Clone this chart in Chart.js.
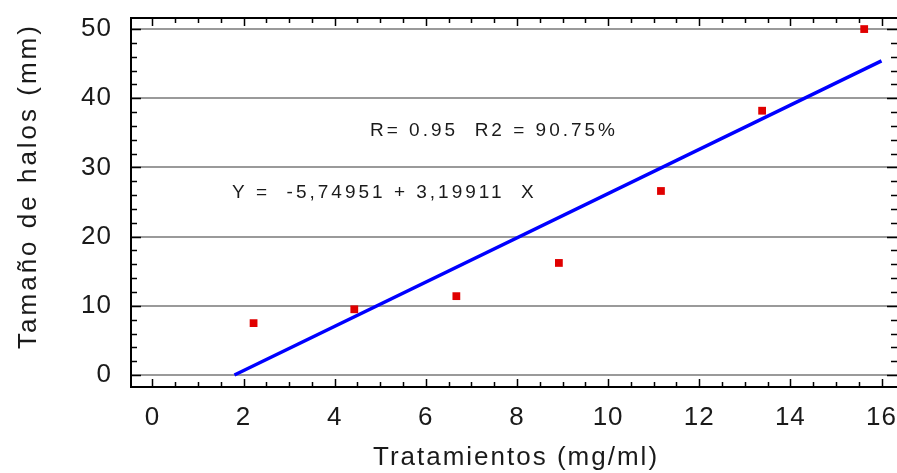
<!DOCTYPE html>
<html>
<head>
<meta charset="utf-8">
<script src="https://cdn.jsdelivr.net/npm/chart.js@4"></script>
<style>
  html, body { margin: 0; padding: 0; background: #fff; }
  #wrap { width: 897px; height: 473px; }
</style>
</head>
<body>
<div id="wrap"><canvas id="c" width="897" height="473"></canvas></div>
<script>
// data
const doseX = [2.22, 4.43, 6.67, 8.92, 11.16, 13.38, 15.62];
const haloY = [7.5, 9.5, 11.4, 16.2, 26.6, 38.2, 50.0];
const fitX = [1.8, 16.0];
const fitY = [0.0, 45.4];
const xTicks = [0, 2, 4, 6, 8, 10, 12, 14, 16];
const yTicks = [0, 10, 20, 30, 40, 50];
const xTitle = 'Tratamientos (mg/ml)';
const yTitle = 'Tamaño de halos (mm)';
const noteR = 'R= 0.95  R2 = 90.75%';
const noteEq = 'Y =  -5,74951 + 3,19911  X';

const FONT = '"Liberation Sans", Arial, sans-serif';
const INK = '#1a1a1a';

// frame, inward ticks and free text
const framePlugin = {
  id: 'frame',
  beforeDraw(chart) {
    chart.ctx.letterSpacing = '1px';
  },
  afterDatasetsDraw(chart) {
    const { ctx, chartArea: a, scales: { x, y } } = chart;
    ctx.save();
    ctx.strokeStyle = '#000';
    ctx.lineWidth = 2;
    ctx.beginPath();
    ctx.moveTo(a.right + 2, a.top); ctx.lineTo(a.left, a.top);
    ctx.lineTo(a.left, a.bottom); ctx.lineTo(a.right + 2, a.bottom);
    ctx.stroke();

    ctx.lineWidth = 1.5;
    ctx.beginPath();
    for (let v = 0; v <= 16.001; v += 0.5) {
      const px = Math.round(x.getPixelForValue(v)) + 0.5;
      const len = Number.isInteger(v / 2) ? 8 : 5;
      ctx.moveTo(px, a.bottom); ctx.lineTo(px, a.bottom - len);
      ctx.moveTo(px, a.top); ctx.lineTo(px, a.top + len);
    }
    for (let v = 0; v <= 50.001; v += 2) {
      const py = Math.round(y.getPixelForValue(v)) + 0.5;
      const len = v % 10 === 0 ? 10 : 6;
      ctx.moveTo(a.left, py); ctx.lineTo(a.left + len, py);
      ctx.moveTo(a.right, py); ctx.lineTo(a.right - len, py);
    }
    ctx.stroke();

    ctx.fillStyle = INK;
    ctx.letterSpacing = '3px';
    ctx.font = '19px ' + FONT;
    ctx.textBaseline = 'middle';
    ctx.textAlign = 'left';
    ctx.fillText(noteR, 370, 131);
    ctx.fillText(noteEq, 232, 193);

    ctx.font = '26px ' + FONT;
    ctx.textAlign = 'center';
    ctx.letterSpacing = '2px';
    ctx.fillText(xTitle, 516, 458);
    ctx.letterSpacing = '3px';
    ctx.translate(29, 186);
    ctx.rotate(-Math.PI / 2);
    ctx.fillText(yTitle, 0, 0);
    ctx.restore();
  }
};

new Chart(document.getElementById('c'), {
  type: 'scatter',
  data: {
    datasets: [
      {
        type: 'line',
        label: 'fit',
        data: fitX.map((v, i) => ({ x: v, y: fitY[i] })),
        borderColor: '#0000ff',
        borderWidth: 3.5,
        pointRadius: 0,
        fill: false,
        order: 2
      },
      {
        label: 'halos',
        data: doseX.map((v, i) => ({ x: v, y: haloY[i] })),
        backgroundColor: '#e00000',
        borderColor: '#e00000',
        borderWidth: 0,
        pointStyle: 'rect',
        pointRadius: 5.5,
        order: 1
      }
    ]
  },
  options: {
    responsive: false,
    animation: false,
    events: [],
    layout: { autoPadding: false, padding: { top: 18, right: 0, left: 0, bottom: 0 } },
    plugins: { legend: { display: false }, tooltip: { enabled: false } },
    scales: {
      x: {
        type: 'linear',
        min: -0.47,
        max: 16.34,
        afterBuildTicks: (s) => { s.ticks = xTicks.map(v => ({ value: v })); },
        afterFit: (s) => { s.height = 86; s.paddingLeft = 0; s.paddingRight = 0; },
        grid: { display: false, drawTicks: false },
        border: { display: false },
        ticks: {
          color: INK,
          padding: 15,
          maxRotation: 0,
          autoSkip: false,
          font: { family: FONT, size: 26 }
        }
      },
      y: {
        min: -1.73,
        max: 51.6,
        afterBuildTicks: (s) => { s.ticks = yTicks.map(v => ({ value: v })); },
        afterFit: (s) => { s.width = 131; s.paddingTop = 0; s.paddingBottom = 0; },
        grid: { color: '#9a9a9a', lineWidth: 2, drawTicks: false },
        border: { display: false },
        ticks: {
          color: INK,
          padding: 19,
          font: { family: FONT, size: 26 }
        }
      }
    }
  },
  plugins: [framePlugin]
});
</script>
</body>
</html>
